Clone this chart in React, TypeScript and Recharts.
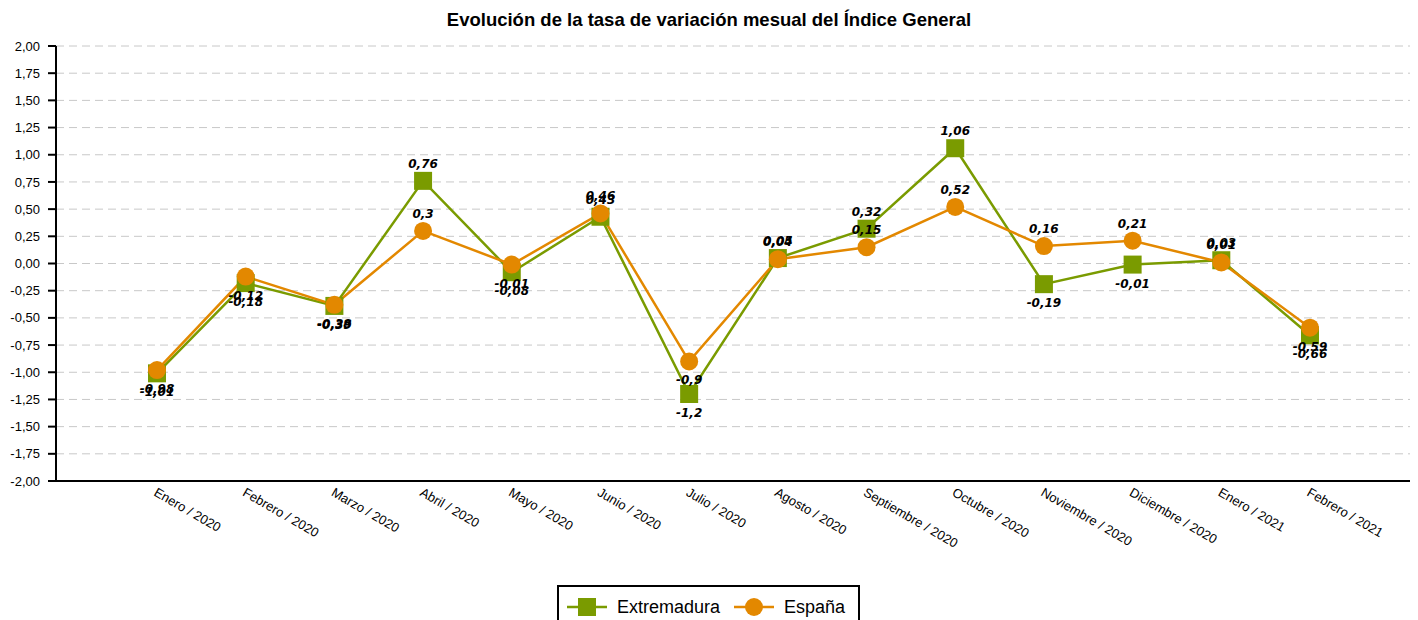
import React from 'react';
import { LineChart, Line, XAxis, YAxis, CartesianGrid, LabelList } from 'recharts';

// monthly variation rate, general index
const months = [
  'Enero / 2020', 'Febrero / 2020', 'Marzo / 2020', 'Abril / 2020', 'Mayo / 2020',
  'Junio / 2020', 'Julio / 2020', 'Agosto / 2020', 'Septiembre / 2020', 'Octubre / 2020',
  'Noviembre / 2020', 'Diciembre / 2020', 'Enero / 2021', 'Febrero / 2021',
];
const extremadura = [-1.01, -0.18, -0.39, 0.76, -0.08, 0.43, -1.2, 0.05, 0.32, 1.06, -0.19, -0.01, 0.03, -0.66];
const espana = [-0.98, -0.12, -0.38, 0.3, -0.01, 0.46, -0.9, 0.04, 0.15, 0.52, 0.16, 0.21, 0.01, -0.59];
const yTicks = [-2, -1.75, -1.5, -1.25, -1, -0.75, -0.5, -0.25, 0, 0.25, 0.5, 0.75, 1, 1.25, 1.5, 1.75, 2];

const GREEN = '#7a9b00';
const ORANGE = '#e38800';

const data = months.map((m, i) => ({ month: m, ext: extremadura[i], esp: espana[i] }));

const fmt = (v: number) => String(v).replace('.', ',');

const ValueLabel = (props: any) => {
  const { x, y, value } = props;
  const dy = value >= 0 ? -13 : 23;
  return (
    <text
      x={x}
      y={y + dy}
      textAnchor="middle"
      fontFamily="DejaVu Sans, sans-serif"
      fontSize={12}
      fontWeight="bold"
      fontStyle="italic"
      fill="#000"
    >
      {fmt(value)}
    </text>
  );
};

const MonthTick = (props: any) => {
  const { x, y, payload } = props;
  return (
    <g transform={`translate(${x - 4},${y + 6})`}>
      <text transform="rotate(30)" textAnchor="start" fontFamily="Liberation Sans, Arial, sans-serif" fontSize={13} fill="#000">
        {payload.value}
      </text>
    </g>
  );
};

const SquareDot = (props: any) => {
  const { cx, cy, index } = props;
  return <rect key={`sq-${index}`} x={cx - 9} y={cy - 9} width={18} height={18} fill={GREEN} />;
};

const CircleDot = (props: any) => {
  const { cx, cy, index } = props;
  return <circle key={`ci-${index}`} cx={cx} cy={cy} r={9} fill={ORANGE} />;
};

export default function App() {
  return (
    <div style={{ position: 'absolute', left: 0, top: 0, width: 1418, height: 620, background: '#fff', fontFamily: 'Liberation Sans, Arial, sans-serif', overflow: 'hidden' }}>
      <div style={{ position: 'absolute', top: 9, left: 0, width: 1418, textAlign: 'center', fontWeight: 'bold', fontSize: 18.5 }}>
        Evolución de la tasa de variación mesual del Índice General
      </div>
      <LineChart width={1418} height={620} data={data} margin={{ top: 46, right: 8, left: 0, bottom: 39 }}>
        <CartesianGrid vertical={false} stroke="#c8c8c8" strokeDasharray="8 5" />
        <XAxis
          dataKey="month"
          interval={0}
          height={100}
          padding={{ left: 101, right: 100 }}
          axisLine={{ stroke: '#000', strokeWidth: 2 }}
          tickLine={false}
          tick={<MonthTick />}
        />
        <YAxis
          domain={[-2, 2]}
          ticks={yTicks}
          width={56}
          interval={0}
          tickSize={8}
          tickMargin={8}
          axisLine={{ stroke: '#000', strokeWidth: 2 }}
          tickLine={{ stroke: '#000', strokeWidth: 2 }}
          tick={{ fill: '#000', fontSize: 13, fontFamily: 'Liberation Sans, Arial, sans-serif' }}
          tickFormatter={(v: number) => v.toFixed(2).replace('.', ',')}
        />
        <Line dataKey="ext" name="Extremadura" stroke={GREEN} strokeWidth={2.5} dot={SquareDot} activeDot={false} isAnimationActive={false}>
          <LabelList dataKey="ext" content={ValueLabel} />
        </Line>
        <Line dataKey="esp" name="España" stroke={ORANGE} strokeWidth={2.5} dot={CircleDot} activeDot={false} isAnimationActive={false}>
          <LabelList dataKey="esp" content={ValueLabel} />
        </Line>
      </LineChart>
      <div style={{ position: 'absolute', left: 557, top: 585, width: 299, height: 40, border: '2px solid #000' }}>
        <div style={{ position: 'absolute', top: 8, left: 6, display: 'flex', alignItems: 'center', height: 24 }}>
          <svg width={44} height={20}>
            <line x1={2} y1={10} x2={42} y2={10} stroke={GREEN} strokeWidth={2.5} />
            <rect x={13} y={1} width={18} height={18} fill={GREEN} />
          </svg>
          <span style={{ fontSize: 18, marginLeft: 8 }}>Extremadura</span>
          <svg width={44} height={20} style={{ marginLeft: 12 }}>
            <line x1={2} y1={10} x2={42} y2={10} stroke={ORANGE} strokeWidth={2.5} />
            <circle cx={22} cy={10} r={9} fill={ORANGE} />
          </svg>
          <span style={{ fontSize: 18, marginLeft: 8 }}>España</span>
        </div>
      </div>
    </div>
  );
}
